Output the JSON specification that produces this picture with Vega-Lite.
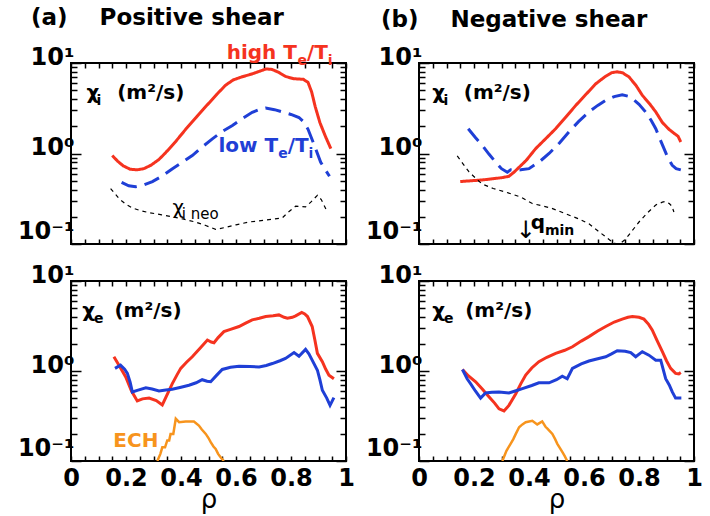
{
"$schema": "https://vega.github.io/schema/vega-lite/v6.json",
"padding": {"left": 16, "top": 5, "right": 5, "bottom": 2},
"background": "white",
"config": {
  "view": {"stroke": "black", "strokeWidth": 2},
  "font": "DejaVu Sans",
  "axis": {"domain": false, "grid": false, "tickColor": "black", "tickWidth": 1.5, "labelColor": "black", "labelFont": "DejaVu Sans", "labelFontWeight": "bold", "labelOverlap": false, "labelBound": false, "labelFlush": false}
},
"datasets": {
"curves": [
{"p":"at","s":"high","x":0.15,"y":0.95},{"p":"at","s":"high","x":0.17,"y":0.82},{"p":"at","s":"high","x":0.19,"y":0.73},{"p":"at","s":"high","x":0.215,"y":0.67},{"p":"at","s":"high","x":0.24,"y":0.66},{"p":"at","s":"high","x":0.265,"y":0.68},{"p":"at","s":"high","x":0.29,"y":0.74},{"p":"at","s":"high","x":0.32,"y":0.86},{"p":"at","s":"high","x":0.344,"y":1.02},{"p":"at","s":"high","x":0.38,"y":1.35},{"p":"at","s":"high","x":0.417,"y":1.85},{"p":"at","s":"high","x":0.455,"y":2.5},{"p":"at","s":"high","x":0.49,"y":3.3},{"p":"at","s":"high","x":0.53,"y":4.5},{"p":"at","s":"high","x":0.5625,"y":5.7},{"p":"at","s":"high","x":0.59,"y":6.5},{"p":"at","s":"high","x":0.62,"y":7.0},{"p":"at","s":"high","x":0.66,"y":7.6},{"p":"at","s":"high","x":0.69,"y":8.2},{"p":"at","s":"high","x":0.71,"y":8.6},{"p":"at","s":"high","x":0.73,"y":8.5},{"p":"at","s":"high","x":0.755,"y":7.9},{"p":"at","s":"high","x":0.78,"y":7.1},{"p":"at","s":"high","x":0.81,"y":6.7},{"p":"at","s":"high","x":0.845,"y":6.6},{"p":"at","s":"high","x":0.862,"y":6.1},{"p":"at","s":"high","x":0.875,"y":4.8},{"p":"at","s":"high","x":0.888,"y":3.3},{"p":"at","s":"high","x":0.905,"y":2.2},{"p":"at","s":"high","x":0.925,"y":1.55},{"p":"at","s":"high","x":0.945,"y":1.13},
{"p":"at","s":"low","x":0.184,"y":0.48},{"p":"at","s":"low","x":0.21,"y":0.44},{"p":"at","s":"low","x":0.235,"y":0.43},{"p":"at","s":"low","x":0.265,"y":0.45},{"p":"at","s":"low","x":0.296,"y":0.49},{"p":"at","s":"low","x":0.33,"y":0.56},{"p":"at","s":"low","x":0.369,"y":0.68},{"p":"at","s":"low","x":0.41,"y":0.82},{"p":"at","s":"low","x":0.441,"y":0.95},{"p":"at","s":"low","x":0.48,"y":1.2},{"p":"at","s":"low","x":0.514,"y":1.45},{"p":"at","s":"low","x":0.55,"y":1.75},{"p":"at","s":"low","x":0.587,"y":2.04},{"p":"at","s":"low","x":0.62,"y":2.4},{"p":"at","s":"low","x":0.659,"y":2.85},{"p":"at","s":"low","x":0.69,"y":3.1},{"p":"at","s":"low","x":0.708,"y":3.18},{"p":"at","s":"low","x":0.74,"y":3.05},{"p":"at","s":"low","x":0.768,"y":2.88},{"p":"at","s":"low","x":0.8,"y":2.7},{"p":"at","s":"low","x":0.829,"y":2.5},{"p":"at","s":"low","x":0.845,"y":2.25},{"p":"at","s":"low","x":0.862,"y":1.85},{"p":"at","s":"low","x":0.884,"y":1.25},{"p":"at","s":"low","x":0.908,"y":0.8},{"p":"at","s":"low","x":0.925,"y":0.66},{"p":"at","s":"low","x":0.94,"y":0.56},
{"p":"at","s":"neo","x":0.144,"y":0.41},{"p":"at","s":"neo","x":0.16,"y":0.36},{"p":"at","s":"neo","x":0.175,"y":0.316},{"p":"at","s":"neo","x":0.2,"y":0.275},{"p":"at","s":"neo","x":0.223,"y":0.25},{"p":"at","s":"neo","x":0.25,"y":0.235},{"p":"at","s":"neo","x":0.284,"y":0.222},{"p":"at","s":"neo","x":0.33,"y":0.21},{"p":"at","s":"neo","x":0.369,"y":0.2},{"p":"at","s":"neo","x":0.41,"y":0.188},{"p":"at","s":"neo","x":0.453,"y":0.175},{"p":"at","s":"neo","x":0.49,"y":0.16},{"p":"at","s":"neo","x":0.526,"y":0.145},{"p":"at","s":"neo","x":0.56,"y":0.152},{"p":"at","s":"neo","x":0.6,"y":0.163},{"p":"at","s":"neo","x":0.647,"y":0.175},{"p":"at","s":"neo","x":0.684,"y":0.18},{"p":"at","s":"neo","x":0.768,"y":0.194},{"p":"at","s":"neo","x":0.79,"y":0.225},{"p":"at","s":"neo","x":0.817,"y":0.262},{"p":"at","s":"neo","x":0.853,"y":0.257},{"p":"at","s":"neo","x":0.872,"y":0.29},{"p":"at","s":"neo","x":0.896,"y":0.345},{"p":"at","s":"neo","x":0.91,"y":0.31},{"p":"at","s":"neo","x":0.932,"y":0.226},
{"p":"bt","s":"high","x":0.15,"y":0.49},{"p":"bt","s":"high","x":0.23,"y":0.51},{"p":"bt","s":"high","x":0.3,"y":0.54},{"p":"bt","s":"high","x":0.327,"y":0.56},{"p":"bt","s":"high","x":0.345,"y":0.62},{"p":"bt","s":"high","x":0.39,"y":0.84},{"p":"bt","s":"high","x":0.424,"y":1.13},{"p":"bt","s":"high","x":0.46,"y":1.45},{"p":"bt","s":"high","x":0.497,"y":1.88},{"p":"bt","s":"high","x":0.535,"y":2.55},{"p":"bt","s":"high","x":0.57,"y":3.4},{"p":"bt","s":"high","x":0.61,"y":4.6},{"p":"bt","s":"high","x":0.643,"y":5.9},{"p":"bt","s":"high","x":0.675,"y":7.0},{"p":"bt","s":"high","x":0.7,"y":7.8},{"p":"bt","s":"high","x":0.72,"y":8.0},{"p":"bt","s":"high","x":0.74,"y":7.8},{"p":"bt","s":"high","x":0.764,"y":7.0},{"p":"bt","s":"high","x":0.79,"y":5.6},{"p":"bt","s":"high","x":0.812,"y":4.4},{"p":"bt","s":"high","x":0.84,"y":3.5},{"p":"bt","s":"high","x":0.861,"y":2.88},{"p":"bt","s":"high","x":0.885,"y":2.2},{"p":"bt","s":"high","x":0.909,"y":1.85},{"p":"bt","s":"high","x":0.93,"y":1.65},{"p":"bt","s":"high","x":0.942,"y":1.55},{"p":"bt","s":"high","x":0.952,"y":1.34},
{"p":"bt","s":"low","x":0.179,"y":1.88},{"p":"bt","s":"low","x":0.205,"y":1.5},{"p":"bt","s":"low","x":0.23,"y":1.23},{"p":"bt","s":"low","x":0.255,"y":0.98},{"p":"bt","s":"low","x":0.279,"y":0.8},{"p":"bt","s":"low","x":0.3,"y":0.68},{"p":"bt","s":"low","x":0.321,"y":0.62},{"p":"bt","s":"low","x":0.333,"y":0.66},{"p":"bt","s":"low","x":0.345,"y":0.65},{"p":"bt","s":"low","x":0.37,"y":0.66},{"p":"bt","s":"low","x":0.4,"y":0.68},{"p":"bt","s":"low","x":0.44,"y":0.82},{"p":"bt","s":"low","x":0.473,"y":1.0},{"p":"bt","s":"low","x":0.51,"y":1.3},{"p":"bt","s":"low","x":0.545,"y":1.73},{"p":"bt","s":"low","x":0.58,"y":2.25},{"p":"bt","s":"low","x":0.618,"y":2.88},{"p":"bt","s":"low","x":0.65,"y":3.4},{"p":"bt","s":"low","x":0.679,"y":3.87},{"p":"bt","s":"low","x":0.71,"y":4.25},{"p":"bt","s":"low","x":0.739,"y":4.46},{"p":"bt","s":"low","x":0.76,"y":4.3},{"p":"bt","s":"low","x":0.776,"y":4.04},{"p":"bt","s":"low","x":0.8,"y":3.5},{"p":"bt","s":"low","x":0.824,"y":2.88},{"p":"bt","s":"low","x":0.845,"y":2.3},{"p":"bt","s":"low","x":0.861,"y":1.88},{"p":"bt","s":"low","x":0.876,"y":1.45},{"p":"bt","s":"low","x":0.891,"y":1.13},{"p":"bt","s":"low","x":0.905,"y":0.9},{"p":"bt","s":"low","x":0.921,"y":0.74},{"p":"bt","s":"low","x":0.935,"y":0.68},{"p":"bt","s":"low","x":0.952,"y":0.66},
{"p":"bt","s":"neo","x":0.139,"y":0.94},{"p":"bt","s":"neo","x":0.16,"y":0.77},{"p":"bt","s":"neo","x":0.182,"y":0.625},{"p":"bt","s":"neo","x":0.21,"y":0.52},{"p":"bt","s":"neo","x":0.23,"y":0.46},{"p":"bt","s":"neo","x":0.27,"y":0.41},{"p":"bt","s":"neo","x":0.315,"y":0.375},{"p":"bt","s":"neo","x":0.37,"y":0.33},{"p":"bt","s":"neo","x":0.412,"y":0.28},{"p":"bt","s":"neo","x":0.48,"y":0.25},{"p":"bt","s":"neo","x":0.533,"y":0.216},{"p":"bt","s":"neo","x":0.58,"y":0.19},{"p":"bt","s":"neo","x":0.618,"y":0.167},{"p":"bt","s":"neo","x":0.65,"y":0.14},{"p":"bt","s":"neo","x":0.679,"y":0.12},{"p":"bt","s":"neo","x":0.703,"y":0.105},{"p":"bt","s":"neo","x":0.718,"y":0.1},{"p":"bt","s":"neo","x":0.735,"y":0.103},{"p":"bt","s":"neo","x":0.752,"y":0.114},{"p":"bt","s":"neo","x":0.775,"y":0.14},{"p":"bt","s":"neo","x":0.8,"y":0.175},{"p":"bt","s":"neo","x":0.83,"y":0.22},{"p":"bt","s":"neo","x":0.861,"y":0.27},{"p":"bt","s":"neo","x":0.885,"y":0.29},{"p":"bt","s":"neo","x":0.897,"y":0.295},{"p":"bt","s":"neo","x":0.91,"y":0.28},{"p":"bt","s":"neo","x":0.919,"y":0.263},{"p":"bt","s":"neo","x":0.927,"y":0.226},
{"p":"ab","s":"high","x":0.156,"y":1.44},{"p":"ab","s":"high","x":0.175,"y":1.15},{"p":"ab","s":"high","x":0.199,"y":0.86},{"p":"ab","s":"high","x":0.22,"y":0.6},{"p":"ab","s":"high","x":0.241,"y":0.465},{"p":"ab","s":"high","x":0.26,"y":0.49},{"p":"ab","s":"high","x":0.284,"y":0.5},{"p":"ab","s":"high","x":0.31,"y":0.47},{"p":"ab","s":"high","x":0.332,"y":0.42},{"p":"ab","s":"high","x":0.35,"y":0.55},{"p":"ab","s":"high","x":0.368,"y":0.72},{"p":"ab","s":"high","x":0.385,"y":0.9},{"p":"ab","s":"high","x":0.399,"y":1.07},{"p":"ab","s":"high","x":0.42,"y":1.25},{"p":"ab","s":"high","x":0.441,"y":1.44},{"p":"ab","s":"high","x":0.47,"y":1.8},{"p":"ab","s":"high","x":0.496,"y":2.21},{"p":"ab","s":"high","x":0.51,"y":2.1},{"p":"ab","s":"high","x":0.52,"y":2.06},{"p":"ab","s":"high","x":0.535,"y":2.35},{"p":"ab","s":"high","x":0.556,"y":2.74},{"p":"ab","s":"high","x":0.58,"y":2.9},{"p":"ab","s":"high","x":0.611,"y":3.12},{"p":"ab","s":"high","x":0.635,"y":3.4},{"p":"ab","s":"high","x":0.659,"y":3.7},{"p":"ab","s":"high","x":0.685,"y":3.85},{"p":"ab","s":"high","x":0.708,"y":4.03},{"p":"ab","s":"high","x":0.735,"y":4.1},{"p":"ab","s":"high","x":0.756,"y":4.2},{"p":"ab","s":"high","x":0.775,"y":3.95},{"p":"ab","s":"high","x":0.787,"y":3.86},{"p":"ab","s":"high","x":0.805,"y":3.95},{"p":"ab","s":"high","x":0.817,"y":4.1},{"p":"ab","s":"high","x":0.839,"y":4.47},{"p":"ab","s":"high","x":0.85,"y":4.3},{"p":"ab","s":"high","x":0.86,"y":4.03},{"p":"ab","s":"high","x":0.877,"y":3.12},{"p":"ab","s":"high","x":0.887,"y":2.2},{"p":"ab","s":"high","x":0.896,"y":1.57},{"p":"ab","s":"high","x":0.914,"y":1.27},{"p":"ab","s":"high","x":0.926,"y":1.05},{"p":"ab","s":"high","x":0.938,"y":0.9},{"p":"ab","s":"high","x":0.956,"y":0.82},
{"p":"ab","s":"low","x":0.16,"y":1.07},{"p":"ab","s":"low","x":0.18,"y":1.16},{"p":"ab","s":"low","x":0.195,"y":1.05},{"p":"ab","s":"low","x":0.205,"y":0.94},{"p":"ab","s":"low","x":0.215,"y":0.75},{"p":"ab","s":"low","x":0.223,"y":0.585},{"p":"ab","s":"low","x":0.241,"y":0.61},{"p":"ab","s":"low","x":0.272,"y":0.65},{"p":"ab","s":"low","x":0.295,"y":0.63},{"p":"ab","s":"low","x":0.32,"y":0.6},{"p":"ab","s":"low","x":0.345,"y":0.615},{"p":"ab","s":"low","x":0.368,"y":0.627},{"p":"ab","s":"low","x":0.4,"y":0.66},{"p":"ab","s":"low","x":0.429,"y":0.694},{"p":"ab","s":"low","x":0.455,"y":0.74},{"p":"ab","s":"low","x":0.477,"y":0.8},{"p":"ab","s":"low","x":0.495,"y":0.77},{"p":"ab","s":"low","x":0.508,"y":0.76},{"p":"ab","s":"low","x":0.53,"y":0.9},{"p":"ab","s":"low","x":0.55,"y":1.04},{"p":"ab","s":"low","x":0.58,"y":1.1},{"p":"ab","s":"low","x":0.611,"y":1.13},{"p":"ab","s":"low","x":0.65,"y":1.12},{"p":"ab","s":"low","x":0.684,"y":1.11},{"p":"ab","s":"low","x":0.71,"y":1.15},{"p":"ab","s":"low","x":0.732,"y":1.21},{"p":"ab","s":"low","x":0.76,"y":1.3},{"p":"ab","s":"low","x":0.78,"y":1.38},{"p":"ab","s":"low","x":0.811,"y":1.6},{"p":"ab","s":"low","x":0.829,"y":1.46},{"p":"ab","s":"low","x":0.853,"y":1.74},{"p":"ab","s":"low","x":0.865,"y":1.55},{"p":"ab","s":"low","x":0.877,"y":1.32},{"p":"ab","s":"low","x":0.896,"y":1.02},{"p":"ab","s":"low","x":0.905,"y":0.8},{"p":"ab","s":"low","x":0.914,"y":0.61},{"p":"ab","s":"low","x":0.93,"y":0.5},{"p":"ab","s":"low","x":0.942,"y":0.415},{"p":"ab","s":"low","x":0.956,"y":0.506},
{"p":"ab","s":"ech","x":0.314,"y":0.1},{"p":"ab","s":"ech","x":0.325,"y":0.12},{"p":"ab","s":"ech","x":0.332,"y":0.142},{"p":"ab","s":"ech","x":0.342,"y":0.142},{"p":"ab","s":"ech","x":0.35,"y":0.169},{"p":"ab","s":"ech","x":0.357,"y":0.169},{"p":"ab","s":"ech","x":0.362,"y":0.2},{"p":"ab","s":"ech","x":0.372,"y":0.2},{"p":"ab","s":"ech","x":0.381,"y":0.295},{"p":"ab","s":"ech","x":0.393,"y":0.27},{"p":"ab","s":"ech","x":0.417,"y":0.275},{"p":"ab","s":"ech","x":0.447,"y":0.275},{"p":"ab","s":"ech","x":0.465,"y":0.248},{"p":"ab","s":"ech","x":0.475,"y":0.225},{"p":"ab","s":"ech","x":0.49,"y":0.2},{"p":"ab","s":"ech","x":0.5,"y":0.18},{"p":"ab","s":"ech","x":0.508,"y":0.162},{"p":"ab","s":"ech","x":0.518,"y":0.145},{"p":"ab","s":"ech","x":0.526,"y":0.136},{"p":"ab","s":"ech","x":0.535,"y":0.12},{"p":"ab","s":"ech","x":0.544,"y":0.11},{"p":"ab","s":"ech","x":0.556,"y":0.1},
{"p":"bb","s":"high","x":0.158,"y":1.04},{"p":"bb","s":"high","x":0.18,"y":0.88},{"p":"bb","s":"high","x":0.206,"y":0.76},{"p":"bb","s":"high","x":0.23,"y":0.63},{"p":"bb","s":"high","x":0.255,"y":0.515},{"p":"bb","s":"high","x":0.275,"y":0.44},{"p":"bb","s":"high","x":0.291,"y":0.38},{"p":"bb","s":"high","x":0.309,"y":0.36},{"p":"bb","s":"high","x":0.327,"y":0.415},{"p":"bb","s":"high","x":0.352,"y":0.56},{"p":"bb","s":"high","x":0.37,"y":0.72},{"p":"bb","s":"high","x":0.388,"y":0.9},{"p":"bb","s":"high","x":0.41,"y":1.08},{"p":"bb","s":"high","x":0.436,"y":1.27},{"p":"bb","s":"high","x":0.465,"y":1.42},{"p":"bb","s":"high","x":0.497,"y":1.57},{"p":"bb","s":"high","x":0.53,"y":1.7},{"p":"bb","s":"high","x":0.558,"y":1.86},{"p":"bb","s":"high","x":0.59,"y":2.15},{"p":"bb","s":"high","x":0.618,"y":2.41},{"p":"bb","s":"high","x":0.65,"y":2.78},{"p":"bb","s":"high","x":0.679,"y":3.12},{"p":"bb","s":"high","x":0.71,"y":3.5},{"p":"bb","s":"high","x":0.739,"y":3.77},{"p":"bb","s":"high","x":0.76,"y":3.95},{"p":"bb","s":"high","x":0.776,"y":4.03},{"p":"bb","s":"high","x":0.8,"y":3.95},{"p":"bb","s":"high","x":0.818,"y":3.77},{"p":"bb","s":"high","x":0.835,"y":3.3},{"p":"bb","s":"high","x":0.848,"y":2.86},{"p":"bb","s":"high","x":0.865,"y":2.2},{"p":"bb","s":"high","x":0.885,"y":1.64},{"p":"bb","s":"high","x":0.9,"y":1.3},{"p":"bb","s":"high","x":0.915,"y":1.07},{"p":"bb","s":"high","x":0.933,"y":0.94},{"p":"bb","s":"high","x":0.945,"y":0.93},{"p":"bb","s":"high","x":0.952,"y":0.96},
{"p":"bb","s":"low","x":0.158,"y":1.04},{"p":"bb","s":"low","x":0.175,"y":0.82},{"p":"bb","s":"low","x":0.188,"y":0.72},{"p":"bb","s":"low","x":0.205,"y":0.6},{"p":"bb","s":"low","x":0.224,"y":0.5},{"p":"bb","s":"low","x":0.242,"y":0.57},{"p":"bb","s":"low","x":0.265,"y":0.58},{"p":"bb","s":"low","x":0.291,"y":0.585},{"p":"bb","s":"low","x":0.327,"y":0.57},{"p":"bb","s":"low","x":0.35,"y":0.6},{"p":"bb","s":"low","x":0.376,"y":0.637},{"p":"bb","s":"low","x":0.41,"y":0.69},{"p":"bb","s":"low","x":0.436,"y":0.74},{"p":"bb","s":"low","x":0.473,"y":0.74},{"p":"bb","s":"low","x":0.5,"y":0.8},{"p":"bb","s":"low","x":0.521,"y":0.875},{"p":"bb","s":"low","x":0.539,"y":0.82},{"p":"bb","s":"low","x":0.558,"y":1.07},{"p":"bb","s":"low","x":0.59,"y":1.2},{"p":"bb","s":"low","x":0.618,"y":1.29},{"p":"bb","s":"low","x":0.65,"y":1.37},{"p":"bb","s":"low","x":0.679,"y":1.44},{"p":"bb","s":"low","x":0.7,"y":1.55},{"p":"bb","s":"low","x":0.721,"y":1.68},{"p":"bb","s":"low","x":0.75,"y":1.66},{"p":"bb","s":"low","x":0.77,"y":1.6},{"p":"bb","s":"low","x":0.788,"y":1.44},{"p":"bb","s":"low","x":0.812,"y":1.64},{"p":"bb","s":"low","x":0.836,"y":1.5},{"p":"bb","s":"low","x":0.861,"y":1.32},{"p":"bb","s":"low","x":0.879,"y":1.32},{"p":"bb","s":"low","x":0.897,"y":0.82},{"p":"bb","s":"low","x":0.91,"y":0.7},{"p":"bb","s":"low","x":0.921,"y":0.585},{"p":"bb","s":"low","x":0.933,"y":0.5},{"p":"bb","s":"low","x":0.954,"y":0.5},
{"p":"bb","s":"ech","x":0.303,"y":0.1},{"p":"bb","s":"ech","x":0.318,"y":0.13},{"p":"bb","s":"ech","x":0.333,"y":0.155},{"p":"bb","s":"ech","x":0.343,"y":0.175},{"p":"bb","s":"ech","x":0.352,"y":0.2},{"p":"bb","s":"ech","x":0.364,"y":0.237},{"p":"bb","s":"ech","x":0.376,"y":0.255},{"p":"bb","s":"ech","x":0.388,"y":0.27},{"p":"bb","s":"ech","x":0.412,"y":0.28},{"p":"bb","s":"ech","x":0.43,"y":0.255},{"p":"bb","s":"ech","x":0.448,"y":0.275},{"p":"bb","s":"ech","x":0.46,"y":0.24},{"p":"bb","s":"ech","x":0.467,"y":0.229},{"p":"bb","s":"ech","x":0.485,"y":0.2},{"p":"bb","s":"ech","x":0.495,"y":0.175},{"p":"bb","s":"ech","x":0.503,"y":0.155},{"p":"bb","s":"ech","x":0.512,"y":0.14},{"p":"bb","s":"ech","x":0.521,"y":0.126},{"p":"bb","s":"ech","x":0.53,"y":0.113},{"p":"bb","s":"ech","x":0.539,"y":0.1}
],
"labels": [
{"p":"at","s":"axis","k":"main","x":0.056,"y":4.04,"t":"χ"},{"p":"at","s":"axis","k":"sub","x":0.093,"y":4.04,"t":"i"},{"p":"at","s":"axis","k":"main","x":0.168,"y":4.04,"t":"(m²/s)"},
{"p":"at","s":"high","k":"main","x":0.566,"y":11.1,"t":"high T"},{"p":"at","s":"high","k":"sub","x":0.824,"y":11.1,"t":"e"},{"p":"at","s":"high","k":"main","x":0.858,"y":11.1,"t":"/T"},{"p":"at","s":"high","k":"sub","x":0.934,"y":11.1,"t":"i"},
{"p":"at","s":"low","k":"main","x":0.536,"y":1.04,"t":"low T"},{"p":"at","s":"low","k":"sub","x":0.754,"y":1.04,"t":"e"},{"p":"at","s":"low","k":"main","x":0.788,"y":1.04,"t":"/T"},{"p":"at","s":"low","k":"sub","x":0.864,"y":1.04,"t":"i"},
{"p":"at","s":"neo","k":"thin","x":0.369,"y":0.216,"t":"χ"},{"p":"at","s":"neo","k":"thinsub","x":0.403,"y":0.216,"t":"i neo"},
{"p":"bt","s":"axis","k":"main","x":0.048,"y":4.04,"t":"χ"},{"p":"bt","s":"axis","k":"sub","x":0.089,"y":4.04,"t":"i"},{"p":"bt","s":"axis","k":"main","x":0.163,"y":4.04,"t":"(m²/s)"},
{"p":"bt","s":"axis","k":"arrow","x":0.352,"y":0.116,"t":"↓"},{"p":"bt","s":"axis","k":"main","x":0.406,"y":0.148,"t":"q"},{"p":"bt","s":"axis","k":"sub","x":0.458,"y":0.148,"t":"min"},
{"p":"ab","s":"axis","k":"main","x":0.041,"y":4.03,"t":"χ"},{"p":"ab","s":"axis","k":"sub","x":0.084,"y":4.03,"t":"e"},{"p":"ab","s":"axis","k":"main","x":0.158,"y":4.03,"t":"(m²/s)"},
{"p":"ab","s":"ech","k":"main","x":0.154,"y":0.142,"t":"ECH"},
{"p":"bb","s":"axis","k":"main","x":0.048,"y":4.03,"t":"χ"},{"p":"bb","s":"axis","k":"sub","x":0.091,"y":4.03,"t":"e"},{"p":"bb","s":"axis","k":"main","x":0.168,"y":4.03,"t":"(m²/s)"}
]
},
"columns": 2,
"spacing": {"row": 37, "column": 73},
"bounds": "flush",
"concat": [
 {"width": 275, "height": 181,
  "title": {"text": "(a)\u00a0\u00a0\u00a0\u00a0Positive shear", "anchor": "start", "frame": "group", "dx": -40, "fontSize": 23, "font": "DejaVu Sans", "fontWeight": "bold", "offset": 13},
  "layer": [
   {"data": {"name": "curves"}, "transform": [{"filter": "datum.p == 'at'"}], "mark": {"type": "line", "clip": true},
    "encoding": {
     "x": {"field": "x", "type": "quantitative", "scale": {"domain": [0, 1], "nice": false, "zero": false}, "axis": {"orient": "bottom", "values": [0,0.05,0.1,0.15,0.2,0.25,0.3,0.35,0.4,0.45,0.5,0.55,0.6,0.65,0.7,0.75,0.8,0.85,0.9,0.95,1], "labels": false, "title": null, "tickSize": -5}},
     "y": {"field": "y", "type": "quantitative", "scale": {"type": "log", "domain": [0.1, 10], "nice": false}, "axis": {"orient": "left", "values": [0.1,0.2,0.3,0.4,0.5,0.6,0.7,0.8,0.9,1,2,3,4,5,6,7,8,9,10], "title": null, "labelExpr": "datum.value == 10 ? '10¹' : datum.value == 1 ? '10⁰' : datum.value == 0.1 ? '10⁻¹' : ''", "labelFontSize": 24, "labelPadding": 7, "labelBaseline": "middle", "labelOffset": {"condition": {"test": "datum.value == 0.1", "value": -13}, "value": -6}, "tickSize": {"condition": {"test": "datum.value == 0.1 || datum.value == 1 || datum.value == 10", "value": -10}, "value": -6}}},
     "color": {"field": "s", "type": "nominal", "scale": {"domain": ["high", "low", "neo", "ech", "axis"], "range": ["#f5331f", "#1f3fd6", "black", "#f7941d", "black"]}, "legend": null},
     "strokeDash": {"field": "s", "type": "nominal", "scale": {"type": "ordinal", "domain": ["high", "low", "neo"], "range": [[1, 0], [16, 8], [4, 4]]}, "legend": null},
     "strokeWidth": {"field": "s", "type": "nominal", "scale": {"type": "ordinal", "domain": ["high", "low", "neo", "ech"], "range": [3, 3, 1.2, 2.5]}, "legend": null}
    }},
   {"data": {"name": "curves"}, "transform": [{"filter": "datum.p == 'at'"}], "mark": {"type": "point", "opacity": 0},
    "encoding": {
     "x": {"field": "x", "type": "quantitative", "axis": {"orient": "top", "values": [0,0.05,0.1,0.15,0.2,0.25,0.3,0.35,0.4,0.45,0.5,0.55,0.6,0.65,0.7,0.75,0.8,0.85,0.9,0.95,1], "labels": false, "title": null, "tickSize": -5}},
     "y": {"field": "y", "type": "quantitative", "axis": {"orient": "right", "values": [0.1,0.2,0.3,0.4,0.5,0.6,0.7,0.8,0.9,1,2,3,4,5,6,7,8,9,10], "labels": false, "title": null, "tickSize": {"condition": {"test": "datum.value == 0.1 || datum.value == 1 || datum.value == 10", "value": -10}, "value": -6}}}
    }},
   {"data": {"name": "labels"}, "transform": [{"filter": "datum.p == 'at' && datum.k == 'main'"}], "mark": {"type": "text", "align": "left", "baseline": "alphabetic", "font": "DejaVu Sans", "fontWeight": "bold", "fontSize": 20},
    "encoding": {"x": {"field": "x", "type": "quantitative", "axis": null}, "y": {"field": "y", "type": "quantitative", "axis": null}, "text": {"field": "t"}, "color": {"field": "s", "type": "nominal", "legend": null}}},
   {"data": {"name": "labels"}, "transform": [{"filter": "datum.p == 'at' && datum.k == 'sub'"}], "mark": {"type": "text", "align": "left", "baseline": "alphabetic", "font": "DejaVu Sans", "fontWeight": "bold", "fontSize": 14, "dy": 6},
    "encoding": {"x": {"field": "x", "type": "quantitative", "axis": null}, "y": {"field": "y", "type": "quantitative", "axis": null}, "text": {"field": "t"}, "color": {"field": "s", "type": "nominal", "legend": null}}},
   {"data": {"name": "labels"}, "transform": [{"filter": "datum.p == 'at' && datum.k == 'thin'"}], "mark": {"type": "text", "align": "left", "baseline": "alphabetic", "font": "DejaVu Sans", "fontSize": 20},
    "encoding": {"x": {"field": "x", "type": "quantitative", "axis": null}, "y": {"field": "y", "type": "quantitative", "axis": null}, "text": {"field": "t"}, "color": {"field": "s", "type": "nominal", "legend": null}}},
   {"data": {"name": "labels"}, "transform": [{"filter": "datum.p == 'at' && datum.k == 'thinsub'"}], "mark": {"type": "text", "align": "left", "baseline": "alphabetic", "font": "DejaVu Sans", "fontSize": 15, "dy": 5},
    "encoding": {"x": {"field": "x", "type": "quantitative", "axis": null}, "y": {"field": "y", "type": "quantitative", "axis": null}, "text": {"field": "t"}, "color": {"field": "s", "type": "nominal", "legend": null}}}
  ],
  "resolve": {"axis": {"x": "independent", "y": "independent"}}
 },
 {"width": 275, "height": 181,
  "title": {"text": "(b)\u00a0\u00a0\u00a0\u00a0Negative shear", "anchor": "start", "frame": "group", "dx": -38, "fontSize": 23, "font": "DejaVu Sans", "fontWeight": "bold", "offset": 13},
  "layer": [
   {"data": {"name": "curves"}, "transform": [{"filter": "datum.p == 'bt'"}], "mark": {"type": "line", "clip": true},
    "encoding": {
     "x": {"field": "x", "type": "quantitative", "scale": {"domain": [0, 1], "nice": false, "zero": false}, "axis": {"orient": "bottom", "values": [0,0.05,0.1,0.15,0.2,0.25,0.3,0.35,0.4,0.45,0.5,0.55,0.6,0.65,0.7,0.75,0.8,0.85,0.9,0.95,1], "labels": false, "title": null, "tickSize": -5}},
     "y": {"field": "y", "type": "quantitative", "scale": {"type": "log", "domain": [0.1, 10], "nice": false}, "axis": {"orient": "left", "values": [0.1,0.2,0.3,0.4,0.5,0.6,0.7,0.8,0.9,1,2,3,4,5,6,7,8,9,10], "title": null, "labelExpr": "datum.value == 10 ? '10¹' : datum.value == 1 ? '10⁰' : datum.value == 0.1 ? '10⁻¹' : ''", "labelFontSize": 24, "labelPadding": 7, "labelBaseline": "middle", "labelOffset": {"condition": {"test": "datum.value == 0.1", "value": -13}, "value": -6}, "tickSize": {"condition": {"test": "datum.value == 0.1 || datum.value == 1 || datum.value == 10", "value": -10}, "value": -6}}},
     "color": {"field": "s", "type": "nominal", "scale": {"domain": ["high", "low", "neo", "ech", "axis"], "range": ["#f5331f", "#1f3fd6", "black", "#f7941d", "black"]}, "legend": null},
     "strokeDash": {"field": "s", "type": "nominal", "scale": {"type": "ordinal", "domain": ["high", "low", "neo"], "range": [[1, 0], [16, 8], [4, 4]]}, "legend": null},
     "strokeWidth": {"field": "s", "type": "nominal", "scale": {"type": "ordinal", "domain": ["high", "low", "neo", "ech"], "range": [3, 3, 1.2, 2.5]}, "legend": null}
    }},
   {"data": {"name": "curves"}, "transform": [{"filter": "datum.p == 'bt'"}], "mark": {"type": "point", "opacity": 0},
    "encoding": {
     "x": {"field": "x", "type": "quantitative", "axis": {"orient": "top", "values": [0,0.05,0.1,0.15,0.2,0.25,0.3,0.35,0.4,0.45,0.5,0.55,0.6,0.65,0.7,0.75,0.8,0.85,0.9,0.95,1], "labels": false, "title": null, "tickSize": -5}},
     "y": {"field": "y", "type": "quantitative", "axis": {"orient": "right", "values": [0.1,0.2,0.3,0.4,0.5,0.6,0.7,0.8,0.9,1,2,3,4,5,6,7,8,9,10], "labels": false, "title": null, "tickSize": {"condition": {"test": "datum.value == 0.1 || datum.value == 1 || datum.value == 10", "value": -10}, "value": -6}}}
    }},
   {"data": {"name": "labels"}, "transform": [{"filter": "datum.p == 'bt' && datum.k == 'main'"}], "mark": {"type": "text", "align": "left", "baseline": "alphabetic", "font": "DejaVu Sans", "fontWeight": "bold", "fontSize": 20},
    "encoding": {"x": {"field": "x", "type": "quantitative", "axis": null}, "y": {"field": "y", "type": "quantitative", "axis": null}, "text": {"field": "t"}, "color": {"field": "s", "type": "nominal", "legend": null}}},
   {"data": {"name": "labels"}, "transform": [{"filter": "datum.p == 'bt' && datum.k == 'sub'"}], "mark": {"type": "text", "align": "left", "baseline": "alphabetic", "font": "DejaVu Sans", "fontWeight": "bold", "fontSize": 14, "dy": 6},
    "encoding": {"x": {"field": "x", "type": "quantitative", "axis": null}, "y": {"field": "y", "type": "quantitative", "axis": null}, "text": {"field": "t"}, "color": {"field": "s", "type": "nominal", "legend": null}}},
   {"data": {"name": "labels"}, "transform": [{"filter": "datum.p == 'bt' && datum.k == 'arrow'"}], "mark": {"type": "text", "align": "left", "baseline": "alphabetic", "font": "DejaVu Sans", "fontSize": 24},
    "encoding": {"x": {"field": "x", "type": "quantitative", "axis": null}, "y": {"field": "y", "type": "quantitative", "axis": null}, "text": {"field": "t"}, "color": {"field": "s", "type": "nominal", "legend": null}}}
  ],
  "resolve": {"axis": {"x": "independent", "y": "independent"}}
 },
 {"width": 275, "height": 180,
  "layer": [
   {"data": {"name": "curves"}, "transform": [{"filter": "datum.p == 'ab'"}], "mark": {"type": "line", "clip": true},
    "encoding": {
     "x": {"field": "x", "type": "quantitative", "scale": {"domain": [0, 1], "nice": false, "zero": false}, "axis": {"orient": "bottom", "values": [0,0.05,0.1,0.15,0.2,0.25,0.3,0.35,0.4,0.45,0.5,0.55,0.6,0.65,0.7,0.75,0.8,0.85,0.9,0.95,1], "labelExpr": "indexof([0,0.2,0.4,0.6,0.8,1], datum.value) >= 0 ? toString(datum.value) : ''", "labelFontSize": 24, "labelPadding": 10, "tickSize": -5, "title": "ρ", "titleFont": "DejaVu Sans", "titleFontSize": 26, "titleFontWeight": "normal", "titlePadding": -4}},
     "y": {"field": "y", "type": "quantitative", "scale": {"type": "log", "domain": [0.1, 10], "nice": false}, "axis": {"orient": "left", "values": [0.1,0.2,0.3,0.4,0.5,0.6,0.7,0.8,0.9,1,2,3,4,5,6,7,8,9,10], "title": null, "labelExpr": "datum.value == 10 ? '10¹' : datum.value == 1 ? '10⁰' : datum.value == 0.1 ? '10⁻¹' : ''", "labelFontSize": 24, "labelPadding": 7, "labelBaseline": "middle", "labelOffset": {"condition": {"test": "datum.value == 0.1", "value": -13}, "value": -6}, "tickSize": {"condition": {"test": "datum.value == 0.1 || datum.value == 1 || datum.value == 10", "value": -10}, "value": -6}}},
     "color": {"field": "s", "type": "nominal", "scale": {"domain": ["high", "low", "neo", "ech", "axis"], "range": ["#f5331f", "#1f3fd6", "black", "#f7941d", "black"]}, "legend": null},
     "strokeWidth": {"field": "s", "type": "nominal", "scale": {"type": "ordinal", "domain": ["high", "low", "neo", "ech"], "range": [3, 3, 1.2, 2.5]}, "legend": null}
    }},
   {"data": {"name": "curves"}, "transform": [{"filter": "datum.p == 'ab'"}], "mark": {"type": "point", "opacity": 0},
    "encoding": {
     "x": {"field": "x", "type": "quantitative", "axis": {"orient": "top", "values": [0,0.05,0.1,0.15,0.2,0.25,0.3,0.35,0.4,0.45,0.5,0.55,0.6,0.65,0.7,0.75,0.8,0.85,0.9,0.95,1], "labels": false, "title": null, "tickSize": -5}},
     "y": {"field": "y", "type": "quantitative", "axis": {"orient": "right", "values": [0.1,0.2,0.3,0.4,0.5,0.6,0.7,0.8,0.9,1,2,3,4,5,6,7,8,9,10], "labels": false, "title": null, "tickSize": {"condition": {"test": "datum.value == 0.1 || datum.value == 1 || datum.value == 10", "value": -10}, "value": -6}}}
    }},
   {"data": {"name": "labels"}, "transform": [{"filter": "datum.p == 'ab' && datum.k == 'main'"}], "mark": {"type": "text", "align": "left", "baseline": "alphabetic", "font": "DejaVu Sans", "fontWeight": "bold", "fontSize": 20},
    "encoding": {"x": {"field": "x", "type": "quantitative", "axis": null}, "y": {"field": "y", "type": "quantitative", "axis": null}, "text": {"field": "t"}, "color": {"field": "s", "type": "nominal", "legend": null}}},
   {"data": {"name": "labels"}, "transform": [{"filter": "datum.p == 'ab' && datum.k == 'sub'"}], "mark": {"type": "text", "align": "left", "baseline": "alphabetic", "font": "DejaVu Sans", "fontWeight": "bold", "fontSize": 14, "dy": 6},
    "encoding": {"x": {"field": "x", "type": "quantitative", "axis": null}, "y": {"field": "y", "type": "quantitative", "axis": null}, "text": {"field": "t"}, "color": {"field": "s", "type": "nominal", "legend": null}}}
  ],
  "resolve": {"axis": {"x": "independent", "y": "independent"}}
 },
 {"width": 275, "height": 180,
  "layer": [
   {"data": {"name": "curves"}, "transform": [{"filter": "datum.p == 'bb'"}], "mark": {"type": "line", "clip": true},
    "encoding": {
     "x": {"field": "x", "type": "quantitative", "scale": {"domain": [0, 1], "nice": false, "zero": false}, "axis": {"orient": "bottom", "values": [0,0.05,0.1,0.15,0.2,0.25,0.3,0.35,0.4,0.45,0.5,0.55,0.6,0.65,0.7,0.75,0.8,0.85,0.9,0.95,1], "labelExpr": "indexof([0,0.2,0.4,0.6,0.8,1], datum.value) >= 0 ? toString(datum.value) : ''", "labelFontSize": 24, "labelPadding": 10, "tickSize": -5, "title": "ρ", "titleFont": "DejaVu Sans", "titleFontSize": 26, "titleFontWeight": "normal", "titlePadding": -4}},
     "y": {"field": "y", "type": "quantitative", "scale": {"type": "log", "domain": [0.1, 10], "nice": false}, "axis": {"orient": "left", "values": [0.1,0.2,0.3,0.4,0.5,0.6,0.7,0.8,0.9,1,2,3,4,5,6,7,8,9,10], "title": null, "labelExpr": "datum.value == 10 ? '10¹' : datum.value == 1 ? '10⁰' : datum.value == 0.1 ? '10⁻¹' : ''", "labelFontSize": 24, "labelPadding": 7, "labelBaseline": "middle", "labelOffset": {"condition": {"test": "datum.value == 0.1", "value": -13}, "value": -6}, "tickSize": {"condition": {"test": "datum.value == 0.1 || datum.value == 1 || datum.value == 10", "value": -10}, "value": -6}}},
     "color": {"field": "s", "type": "nominal", "scale": {"domain": ["high", "low", "neo", "ech", "axis"], "range": ["#f5331f", "#1f3fd6", "black", "#f7941d", "black"]}, "legend": null},
     "strokeWidth": {"field": "s", "type": "nominal", "scale": {"type": "ordinal", "domain": ["high", "low", "neo", "ech"], "range": [3, 3, 1.2, 2.5]}, "legend": null}
    }},
   {"data": {"name": "curves"}, "transform": [{"filter": "datum.p == 'bb'"}], "mark": {"type": "point", "opacity": 0},
    "encoding": {
     "x": {"field": "x", "type": "quantitative", "axis": {"orient": "top", "values": [0,0.05,0.1,0.15,0.2,0.25,0.3,0.35,0.4,0.45,0.5,0.55,0.6,0.65,0.7,0.75,0.8,0.85,0.9,0.95,1], "labels": false, "title": null, "tickSize": -5}},
     "y": {"field": "y", "type": "quantitative", "axis": {"orient": "right", "values": [0.1,0.2,0.3,0.4,0.5,0.6,0.7,0.8,0.9,1,2,3,4,5,6,7,8,9,10], "labels": false, "title": null, "tickSize": {"condition": {"test": "datum.value == 0.1 || datum.value == 1 || datum.value == 10", "value": -10}, "value": -6}}}
    }},
   {"data": {"name": "labels"}, "transform": [{"filter": "datum.p == 'bb' && datum.k == 'main'"}], "mark": {"type": "text", "align": "left", "baseline": "alphabetic", "font": "DejaVu Sans", "fontWeight": "bold", "fontSize": 20},
    "encoding": {"x": {"field": "x", "type": "quantitative", "axis": null}, "y": {"field": "y", "type": "quantitative", "axis": null}, "text": {"field": "t"}, "color": {"field": "s", "type": "nominal", "legend": null}}},
   {"data": {"name": "labels"}, "transform": [{"filter": "datum.p == 'bb' && datum.k == 'sub'"}], "mark": {"type": "text", "align": "left", "baseline": "alphabetic", "font": "DejaVu Sans", "fontWeight": "bold", "fontSize": 14, "dy": 6},
    "encoding": {"x": {"field": "x", "type": "quantitative", "axis": null}, "y": {"field": "y", "type": "quantitative", "axis": null}, "text": {"field": "t"}, "color": {"field": "s", "type": "nominal", "legend": null}}}
  ],
  "resolve": {"axis": {"x": "independent", "y": "independent"}}
 }
]
}
